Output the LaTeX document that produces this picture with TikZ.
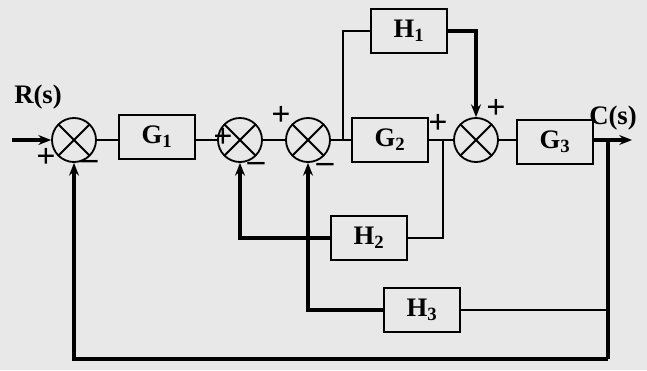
\documentclass[tikz,border=0pt]{standalone}
\usepackage{fontspec}
\setmainfont{Liberation Serif}
\usetikzlibrary{arrows.meta}

\begin{document}
\begin{tikzpicture}[x=0.025cm, y=-0.025cm, >={Stealth[length=9pt,width=7pt]}]
	% Define styles
	\tikzstyle{block} = [rectangle, draw, line width=1.3pt, minimum width=1.9cm, minimum height=1.1cm, font=\fontsize{19}{21}\selectfont\bfseries]
	\tikzstyle{sumpoint} = [circle, draw, line width=1.3pt, minimum size=1.1cm, inner sep=0pt, path picture={\draw[line width=1.3pt] (path picture bounding box.north west) -- (path picture bounding box.south east) (path picture bounding box.north east) -- (path picture bounding box.south west);}]
	\tikzstyle{sign} = [font=\fontsize{24}{26}\selectfont\bfseries, inner sep=0pt]
	\tikzstyle{thin} = [line width=1pt]
	\tikzstyle{thick} = [line width=2.2pt]

	% Paper
	\fill[black!9] (0,0) rectangle (647,370);
	\useasboundingbox (0,0) rectangle (647,370);

	% Forward path
	\node[sumpoint] (s1) at (74,140) {};
	\node[block] (g1) at (157,137) {G\textsubscript{1}};
	\node[sumpoint] (s2) at (240,140) {};
	\node[sumpoint] (s3) at (308,140) {};
	\node[block] (g2) at (390,140) {G\textsubscript{2}};
	\node[sumpoint] (s4) at (476,140) {};
	\node[block] (g3) at (555,142) {G\textsubscript{3}};

	% Feedback and feedforward blocks
	\node[block] (h1) at (409,31) {H\textsubscript{1}};
	\node[block] (h2) at (369,238) {H\textsubscript{2}};
	\node[block] (h3) at (422,310) {H\textsubscript{3}};

	% Labels
	\node[font=\fontsize{19}{21}\selectfont\bfseries] (rs) at (38,97) {R(s)};
	\node[font=\fontsize{19}{21}\selectfont\bfseries] (cs) at (613,118) {C(s)};
	\node[sign] (p1) at (46,158) {+};
	\node[sign] (m1) at (89,165) {--};
	\node[sign] (p2) at (223,138) {+};
	\node[sign] (m2) at (256,167) {--};
	\node[sign] (p3) at (281,116) {+};
	\node[sign] (m3) at (325,168) {--};
	\node[sign] (p4) at (438,124) {+};
	\node[sign] (p5) at (496,109) {+};

	% Branch points
	\coordinate (in) at (12,140);
	\coordinate (j1) at (343,140);
	\coordinate (j2) at (443,140);
	\coordinate (j3) at (608,140);
	\coordinate (out) at (632,140);
	\coordinate (bot) at (608,359);

	% Arrows
	\draw[thick, ->] (in) -- (s1);
	\draw[thin] (s1) -- (g1.west |- s1);
	\draw[thin] (g1.east |- s2) -- (s2);
	\draw[thin] (s2) -- (s3);
	\draw[thin] (s3) -- (g2);
	\draw[thin] (g2) -- (s4);
	\draw[thin] (s4) -- (g3.west |- s4);
	\draw[thick, ->] (g3.east |- j3) -- (out);
	\draw[thin] (j1) |- (h1);
	\draw[thick, ->] (h1) -| (s4);
	\draw[thin] (j2) |- (h2);
	\draw[thick, ->] (h2) -| (s2);
	\draw[thin] (j3) |- (h3.east);
	\draw[thick, ->] (h3) -| (s3);
	\draw[thick] (j3) -- (bot);
	\draw[thick, ->] (bot) -| (s1);
\end{tikzpicture}
\end{document}
